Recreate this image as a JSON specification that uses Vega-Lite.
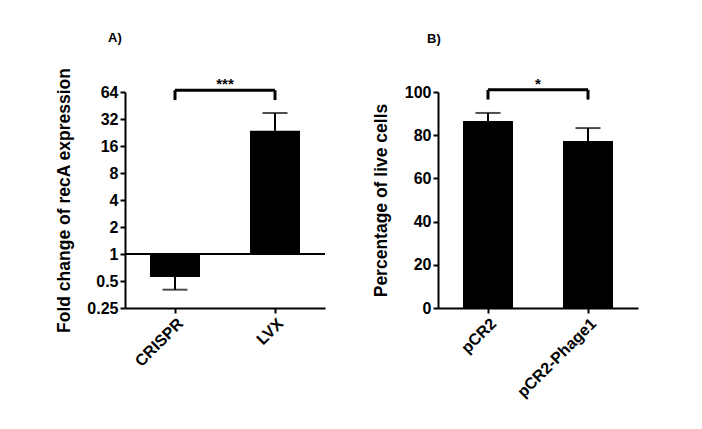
{
  "$schema": "https://vega.github.io/schema/vega-lite/v6.json",
  "background": "white",
  "padding": {"left": 55, "top": 32, "right": 5, "bottom": 5},
  "config": {
    "view": {"stroke": null},
    "font": "Liberation Sans",
    "axis": {
      "domainColor": "black", "domainWidth": 2, "tickColor": "black", "tickWidth": 2, "tickSize": 5,
      "labelFont": "Liberation Sans", "labelFontWeight": "bold", "labelFontSize": 16, "labelColor": "black",
      "titleFont": "Liberation Sans", "titleFontWeight": "bold", "titleFontSize": 17.5, "titleColor": "black",
      "grid": false
    },
    "title": {"font": "Liberation Sans", "fontWeight": "bold", "fontSize": 13, "anchor": "start", "frame": "group", "color": "black"},
    "concat": {"spacing": 46}
  },
  "hconcat": [
    {
      "width": 200, "height": 216,
      "title": {"text": "A)", "dx": -17, "offset": 22},
      "data": {"values": [
        {"group": "CRISPR", "mean": 0.555, "err": 0.40},
        {"group": "LVX", "mean": 23.6, "err": 37.3}
      ]},
      "layer": [
        {
          "mark": {"type": "bar", "color": "black"},
          "encoding": {
            "x": {"field": "group", "type": "nominal", "scale": {"paddingInner": 0.5, "paddingOuter": 0.25}, "axis": {"title": null, "labelAngle": -45}},
            "y": {"field": "mean", "type": "quantitative", "scale": {"type": "log", "base": 2, "domain": [0.25, 64]}, "axis": {"title": "Fold change of recA expression", "values": [0.25, 0.5, 1, 2, 4, 8, 16, 32, 64], "format": "~g", "titlePadding": 13}},
            "y2": {"datum": 1}
          }
        },
        {
          "mark": {"type": "rule", "strokeWidth": 2, "color": "black"},
          "encoding": {
            "x": {"field": "group", "type": "nominal"},
            "y": {"field": "mean", "type": "quantitative", "title": "Fold change of recA expression"},
            "y2": {"field": "err"}
          }
        },
        {
          "mark": {"type": "tick", "thickness": 2, "size": 25, "color": "black"},
          "encoding": {
            "x": {"field": "group", "type": "nominal"},
            "y": {"field": "err", "type": "quantitative", "title": "Fold change of recA expression"}
          }
        },
        {
          "mark": {"type": "rule", "strokeWidth": 2, "color": "black"},
          "encoding": {"y": {"datum": 1}}
        },
        {
          "data": {"values": [{"a": "CRISPR", "b": "LVX", "top": 67}]},
          "mark": {"type": "rule", "strokeWidth": 3, "color": "black", "clip": false},
          "encoding": {
            "x": {"field": "a", "type": "nominal"},
            "x2": {"field": "b"},
            "y": {"field": "top", "type": "quantitative", "title": "Fold change of recA expression"}
          }
        },
        {
          "data": {"values": [{"g": "CRISPR", "top": 67, "bot": 52}, {"g": "LVX", "top": 67, "bot": 52}]},
          "mark": {"type": "rule", "strokeWidth": 3, "color": "black", "clip": false},
          "encoding": {
            "x": {"field": "g", "type": "nominal"},
            "y": {"field": "top", "type": "quantitative", "title": "Fold change of recA expression"},
            "y2": {"field": "bot"}
          }
        },
        {
          "data": {"values": [{"label": "***", "top": 67}]},
          "mark": {"type": "text", "fontSize": 15, "fontWeight": "bold", "baseline": "alphabetic", "dy": -1, "color": "black"},
          "encoding": {
            "text": {"field": "label"},
            "y": {"field": "top", "type": "quantitative", "title": "Fold change of recA expression"}
          }
        }
      ]
    },
    {
      "width": 200, "height": 216,
      "title": {"text": "B)", "dx": -11, "offset": 31},
      "data": {"values": [
        {"group": "pCR2", "mean": 86.6, "err": 90.3},
        {"group": "pCR2-Phage1", "mean": 77.3, "err": 83.3}
      ]},
      "layer": [
        {
          "mark": {"type": "bar", "color": "black"},
          "encoding": {
            "x": {"field": "group", "type": "nominal", "scale": {"paddingInner": 0.5, "paddingOuter": 0.25}, "axis": {"title": null, "labelAngle": -45}},
            "y": {"field": "mean", "type": "quantitative", "scale": {"domain": [0, 100]}, "axis": {"title": "Percentage of live cells", "values": [0, 20, 40, 60, 80, 100], "titlePadding": 14}}
          }
        },
        {
          "mark": {"type": "rule", "strokeWidth": 2, "color": "black"},
          "encoding": {
            "x": {"field": "group", "type": "nominal"},
            "y": {"field": "mean", "type": "quantitative", "title": "Percentage of live cells"},
            "y2": {"field": "err"}
          }
        },
        {
          "mark": {"type": "tick", "thickness": 2, "size": 25, "color": "black"},
          "encoding": {
            "x": {"field": "group", "type": "nominal"},
            "y": {"field": "err", "type": "quantitative", "title": "Percentage of live cells"}
          }
        },
        {
          "data": {"values": [{"a": "pCR2", "b": "pCR2-Phage1", "top": 101}]},
          "mark": {"type": "rule", "strokeWidth": 3, "color": "black", "clip": false},
          "encoding": {
            "x": {"field": "a", "type": "nominal"},
            "x2": {"field": "b"},
            "y": {"field": "top", "type": "quantitative", "title": "Percentage of live cells"}
          }
        },
        {
          "data": {"values": [{"g": "pCR2", "top": 101, "bot": 96.5}, {"g": "pCR2-Phage1", "top": 101, "bot": 96.5}]},
          "mark": {"type": "rule", "strokeWidth": 3, "color": "black", "clip": false},
          "encoding": {
            "x": {"field": "g", "type": "nominal"},
            "y": {"field": "top", "type": "quantitative", "title": "Percentage of live cells"},
            "y2": {"field": "bot"}
          }
        },
        {
          "data": {"values": [{"label": "*", "top": 101}]},
          "mark": {"type": "text", "fontSize": 15, "fontWeight": "bold", "baseline": "alphabetic", "dy": -1, "color": "black"},
          "encoding": {
            "text": {"field": "label"},
            "y": {"field": "top", "type": "quantitative", "title": "Percentage of live cells"}
          }
        }
      ]
    }
  ]
}
